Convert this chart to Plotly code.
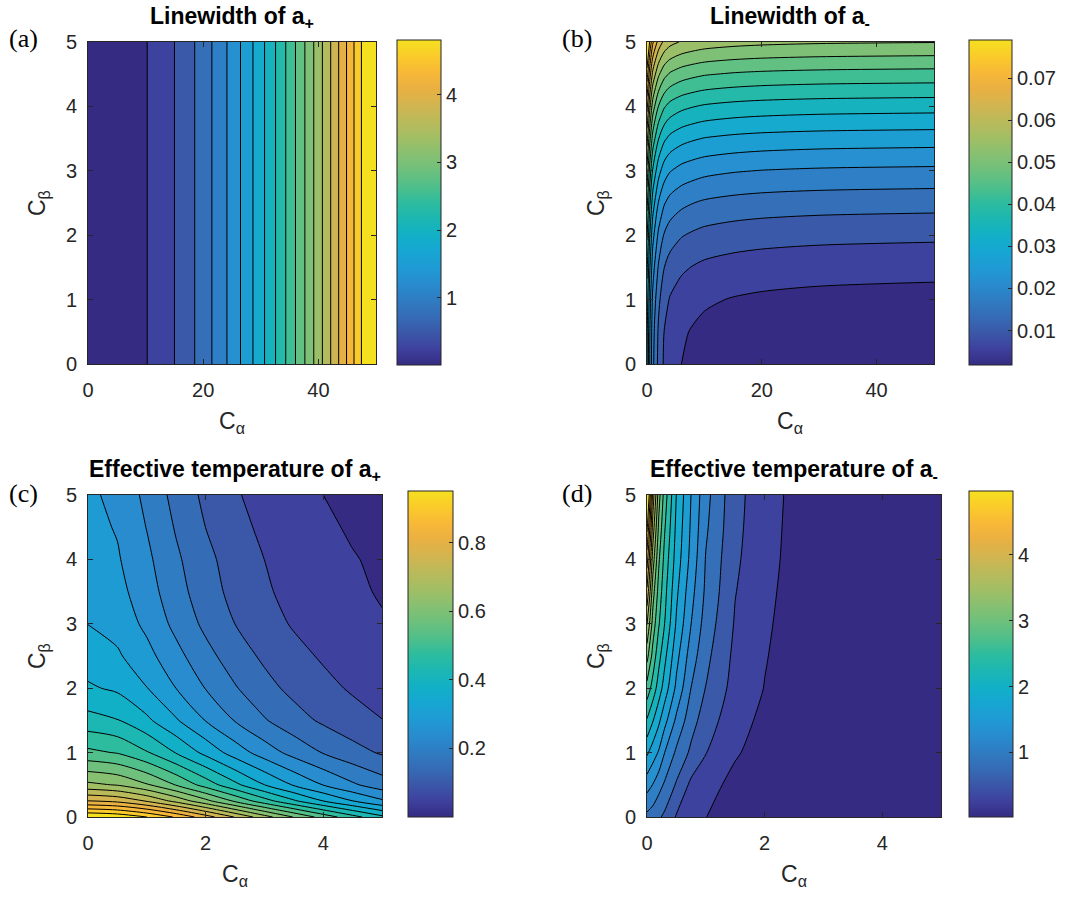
import plotly.graph_objects as go

W, H = 1086, 897

# ---------------- data ----------------
# (a) Linewidth of a+  (depends only on C_alpha)
a_calpha = [0, 2.5, 5, 7.5, 10, 12.5, 15, 17.5, 20, 22.5, 25, 27.5, 30, 32.5, 35,
            37.5, 40, 42.5, 45, 47.5, 50]
a_cbeta = [0, 5]
a_width = [0.01, 0.043, 0.079, 0.138, 0.222, 0.330, 0.462, 0.618, 0.798, 1.001, 1.229,
           1.481, 1.757, 2.056, 2.380, 2.728, 3.099, 3.495, 3.914, 4.358, 4.826]

# (b) Linewidth of a-
b_calpha = [0, 0.5, 1, 2, 3, 4, 6, 8, 10, 15, 20, 30, 50]
b_cbeta = [0, 0.5, 1, 1.5, 2, 2.5, 3, 3.5, 4, 4.5, 5]
b_width = [
    [0.0315, 0.0235, 0.0175, 0.0118, 0.0086, 0.0070, 0.0055, 0.0047, 0.0041, 0.0034, 0.0030, 0.0026, 0.0023],
    [0.0320, 0.0240, 0.0180, 0.0123, 0.0091, 0.0075, 0.0060, 0.0052, 0.0046, 0.0039, 0.0035, 0.0031, 0.0028],
    [0.0334, 0.0254, 0.0194, 0.0137, 0.0105, 0.0089, 0.0074, 0.0066, 0.0060, 0.0053, 0.0049, 0.0045, 0.0042],
    [0.0358, 0.0278, 0.0218, 0.0161, 0.0129, 0.0113, 0.0098, 0.0090, 0.0084, 0.0077, 0.0073, 0.0069, 0.0066],
    [0.0391, 0.0311, 0.0251, 0.0194, 0.0162, 0.0146, 0.0131, 0.0123, 0.0117, 0.0110, 0.0106, 0.0102, 0.0099],
    [0.0434, 0.0354, 0.0294, 0.0237, 0.0205, 0.0189, 0.0174, 0.0166, 0.0160, 0.0153, 0.0149, 0.0145, 0.0142],
    [0.0486, 0.0406, 0.0346, 0.0289, 0.0257, 0.0241, 0.0226, 0.0218, 0.0212, 0.0205, 0.0201, 0.0197, 0.0194],
    [0.0548, 0.0468, 0.0408, 0.0351, 0.0319, 0.0303, 0.0288, 0.0280, 0.0274, 0.0267, 0.0263, 0.0259, 0.0256],
    [0.0619, 0.0539, 0.0479, 0.0422, 0.0390, 0.0374, 0.0359, 0.0351, 0.0345, 0.0338, 0.0334, 0.0330, 0.0327],
    [0.0700, 0.0620, 0.0560, 0.0503, 0.0471, 0.0455, 0.0440, 0.0432, 0.0426, 0.0419, 0.0415, 0.0411, 0.0408],
    [0.0790, 0.0710, 0.0650, 0.0593, 0.0561, 0.0545, 0.0530, 0.0522, 0.0516, 0.0509, 0.0505, 0.0501, 0.0498],
]

# (c) Effective temperature of a+
c_calpha = [0, 0.5, 1, 1.5, 2, 2.5, 3, 3.5, 4, 4.5, 5]
c_cbeta = [0, 0.25, 0.5, 1, 1.5, 2, 2.5, 3, 3.5, 4, 4.5, 5]
c_temp = [
    [0.951, 0.939, 0.905, 0.854, 0.791, 0.722, 0.653, 0.587, 0.526, 0.470, 0.420],
    [0.770, 0.757, 0.720, 0.665, 0.602, 0.536, 0.472, 0.415, 0.363, 0.319, 0.280],
    [0.645, 0.631, 0.594, 0.541, 0.480, 0.420, 0.364, 0.314, 0.272, 0.235, 0.205],
    [0.510, 0.496, 0.458, 0.406, 0.351, 0.298, 0.252, 0.213, 0.181, 0.155, 0.133],
    [0.425, 0.411, 0.373, 0.323, 0.272, 0.226, 0.187, 0.156, 0.131, 0.110, 0.094],
    [0.370, 0.356, 0.320, 0.273, 0.227, 0.187, 0.153, 0.126, 0.105, 0.088, 0.075],
    [0.340, 0.325, 0.288, 0.242, 0.198, 0.160, 0.130, 0.106, 0.088, 0.073, 0.062],
    [0.318, 0.302, 0.263, 0.216, 0.173, 0.138, 0.110, 0.089, 0.073, 0.061, 0.051],
    [0.305, 0.288, 0.248, 0.201, 0.158, 0.125, 0.099, 0.080, 0.065, 0.054, 0.045],
    [0.295, 0.278, 0.238, 0.191, 0.150, 0.118, 0.093, 0.075, 0.061, 0.050, 0.042],
    [0.288, 0.270, 0.227, 0.179, 0.138, 0.107, 0.084, 0.067, 0.054, 0.044, 0.037],
    [0.282, 0.262, 0.217, 0.168, 0.128, 0.098, 0.076, 0.060, 0.048, 0.040, 0.033],
]

# (d) Effective temperature of a-
d_calpha = [0, 0.1, 0.2, 0.3, 0.5, 0.75, 1, 1.5, 2, 2.5, 3, 4, 5]
d_cbeta = [0, 0.5, 1, 1.5, 2, 2.5, 3, 3.5, 4, 4.5, 5]
d_temp = [
    [0.90, 0.84, 0.76, 0.68, 0.47, 0.35, 0.26, 0.13, 0.08, 0.05, 0.04, 0.03, 0.02],
    [1.30, 1.19, 1.05, 0.93, 0.70, 0.44, 0.34, 0.19, 0.11, 0.07, 0.05, 0.035, 0.025],
    [1.71, 1.55, 1.41, 1.20, 0.92, 0.68, 0.50, 0.28, 0.16, 0.10, 0.07, 0.04, 0.03],
    [2.12, 1.92, 1.72, 1.51, 1.15, 0.82, 0.61, 0.34, 0.205, 0.125, 0.08, 0.045, 0.03],
    [2.52, 2.28, 2.03, 1.80, 1.38, 0.96, 0.72, 0.40, 0.25, 0.15, 0.09, 0.05, 0.03],
    [2.93, 2.52, 2.22, 1.97, 1.51, 1.08, 0.79, 0.435, 0.27, 0.16, 0.095, 0.05, 0.03],
    [3.33, 2.75, 2.40, 2.14, 1.64, 1.20, 0.86, 0.47, 0.29, 0.17, 0.10, 0.05, 0.03],
    [3.74, 2.95, 2.52, 2.22, 1.72, 1.28, 0.92, 0.50, 0.31, 0.18, 0.105, 0.05, 0.03],
    [4.14, 3.20, 2.65, 2.30, 1.80, 1.36, 0.95, 0.53, 0.33, 0.19, 0.11, 0.05, 0.03],
    [4.56, 3.45, 2.80, 2.40, 1.85, 1.40, 1.00, 0.55, 0.345, 0.195, 0.115, 0.055, 0.03],
    [4.97, 3.70, 2.95, 2.50, 1.90, 1.43, 1.04, 0.56, 0.36, 0.20, 0.12, 0.06, 0.03],
]

# contour levels and colour ranges
a_levels = (0.234, 4.58, 0.2288)
b_levels = (0.0055, 0.0754, 0.00368)
c_levels = (0.048, 0.905, 0.0451)
d_levels = (0.256, 4.734, 0.2357)
a_range = (0.005, 4.81)
b_range = (0.0018, 0.0791)
c_range = (0.0, 0.951)
d_range = (0.02, 4.97)

a_cb_ticks = [1, 2, 3, 4]
b_cb_ticks = [0.01, 0.02, 0.03, 0.04, 0.05, 0.06, 0.07]
c_cb_ticks = [0.2, 0.4, 0.6, 0.8]
d_cb_ticks = [1, 2, 3, 4]

# ---------------- style ----------------
# parula-like colours as they appear in the reference (21 band colours)
band_rgb = [
    (53, 43, 130), (62, 65, 158), (59, 88, 168), (53, 108, 182), (47, 124, 194),
    (40, 140, 206), (31, 155, 212), (22, 166, 210), (18, 176, 198), (28, 183, 178),
    (46, 188, 158), (80, 191, 138), (110, 192, 124), (136, 192, 113), (162, 190, 100),
    (186, 186, 90), (210, 181, 80), (233, 176, 66), (248, 184, 56), (250, 203, 42),
    (245, 224, 32),
]
n = len(band_rgb)
parula = [[i / (n - 1), "rgb(%d,%d,%d)" % c] for i, c in enumerate(band_rgb)]

AX = "#262626"
SANS = "Liberation Sans"
SERIF = "Liberation Serif"

fig = go.Figure()

panels = [
    ("a", a_calpha, a_cbeta, [a_width for _ in a_cbeta], a_levels, a_range, a_cb_ticks,
     (88, 376, 42, 364), (397, 441, 40, 365), [0, 50], [0, 20, 40]),
    ("b", b_calpha, b_cbeta, b_width, b_levels, b_range, b_cb_ticks,
     (647, 934, 42, 364), (969, 1012, 40, 365), [0, 50], [0, 20, 40]),
    ("c", c_calpha, c_cbeta, c_temp, c_levels, c_range, c_cb_ticks,
     (88, 382, 495, 817), (408, 453, 491, 817), [0, 5], [0, 2, 4]),
    ("d", d_calpha, d_cbeta, d_temp, d_levels, d_range, d_cb_ticks,
     (647, 941, 495, 817), (969, 1013, 491, 817), [0, 5], [0, 2, 4]),
]

titles = {
    "a": "<b>Linewidth of a<sub>+</sub></b>",
    "b": "<b>Linewidth of a<sub>-</sub></b>",
    "c": "<b>Effective temperature of a<sub>+</sub></b>",
    "d": "<b>Effective temperature of a<sub>-</sub></b>",
}
label_pos = {"a": (23, 39), "b": (577, 38), "c": (23, 493), "d": (577, 493)}

annotations = []
layout_axes = {}
for i, (name, xs, ys, zs, lev, rng, cbt, box, cbox, xr, xt) in enumerate(panels):
    k = "" if i == 0 else str(i + 1)
    xa, ya = "x" + k, "y" + k
    l, r, t, b = box
    cl, cr, ct, cb = cbox
    cbtext = [("%g" % v) for v in cbt]
    fig.add_trace(go.Heatmap(
        x=xs, y=ys, z=zs, xaxis=xa, yaxis=ya, colorscale=parula, zmin=rng[0], zmax=rng[1],
        hoverinfo="skip", showscale=True,
        colorbar=dict(x=cl / W, xanchor="left", xpad=0, ypad=0,
                      y=1 - (ct + cb) / 2 / H, yanchor="middle", len=(cb - ct) / H, lenmode="fraction",
                      thickness=cr - cl, thicknessmode="pixels", outlinewidth=1, outlinecolor=AX,
                      ticks="inside", ticklen=4, tickcolor=AX, tickvals=cbt, ticktext=cbtext,
                      tickfont=dict(family=SANS, size=20, color=AX)),
    ))
    fig.add_trace(go.Contour(
        x=xs, y=ys, z=zs, xaxis=xa, yaxis=ya, colorscale=parula, showscale=False,
        autocontour=False,
        contours=dict(start=lev[0], end=lev[1], size=lev[2], coloring="fill", showlines=True),
        line=dict(color="black", width=1, smoothing=0.8),
        hoverinfo="skip",
    ))
    common = dict(ticks="inside", ticklen=5, tickcolor=AX, showline=True, linecolor=AX, linewidth=1,
                  mirror="ticks", showgrid=False, zeroline=False, automargin=False,
                  tickfont=dict(family=SANS, size=20, color=AX))
    layout_axes["xaxis" + k] = dict(domain=[l / W, r / W], range=xr, tickvals=xt, anchor=ya,
                                    ticklabelstandoff=8, **common)
    layout_axes["yaxis" + k] = dict(domain=[1 - b / H, 1 - t / H], range=[0, 5],
                                    tickvals=[0, 1, 2, 3, 4, 5], anchor=xa, ticklabelstandoff=6, **common)
    ty = 15 if t < 100 else 467
    annotations.append(dict(text=titles[name], x=(l + r) / 2 / W, y=1 - (ty + 3) / H, xref="paper",
                            yref="paper", xanchor="center", yanchor="middle", showarrow=False,
                            font=dict(family=SANS, size=23, color="black")))
    annotations.append(dict(text="C<sub>α</sub>", x=(l + r) / 2 / W, y=1 - (b + 58) / H, xref="paper",
                            yref="paper", xanchor="center", yanchor="middle", showarrow=False,
                            font=dict(family=SANS, size=23, color=AX)))
    annotations.append(dict(text="C<sub>β</sub>", x=(l - 50) / W, y=1 - (t + b) / 2 / H, xref="paper",
                            yref="paper", xanchor="center", yanchor="middle", showarrow=False,
                            textangle=-90, font=dict(family=SANS, size=23, color=AX)))
    px, py = label_pos[name]
    annotations.append(dict(text="(%s)" % name, x=px / W, y=1 - py / H, xref="paper", yref="paper",
                            xanchor="center", yanchor="middle", showarrow=False,
                            font=dict(family=SERIF, size=26, color="black")))

fig.update_layout(width=W, height=H, margin=dict(l=0, r=0, t=0, b=0, autoexpand=False),
                  paper_bgcolor="white", plot_bgcolor="white", showlegend=False,
                  annotations=annotations, **layout_axes)

fig.write_html("out.html")
